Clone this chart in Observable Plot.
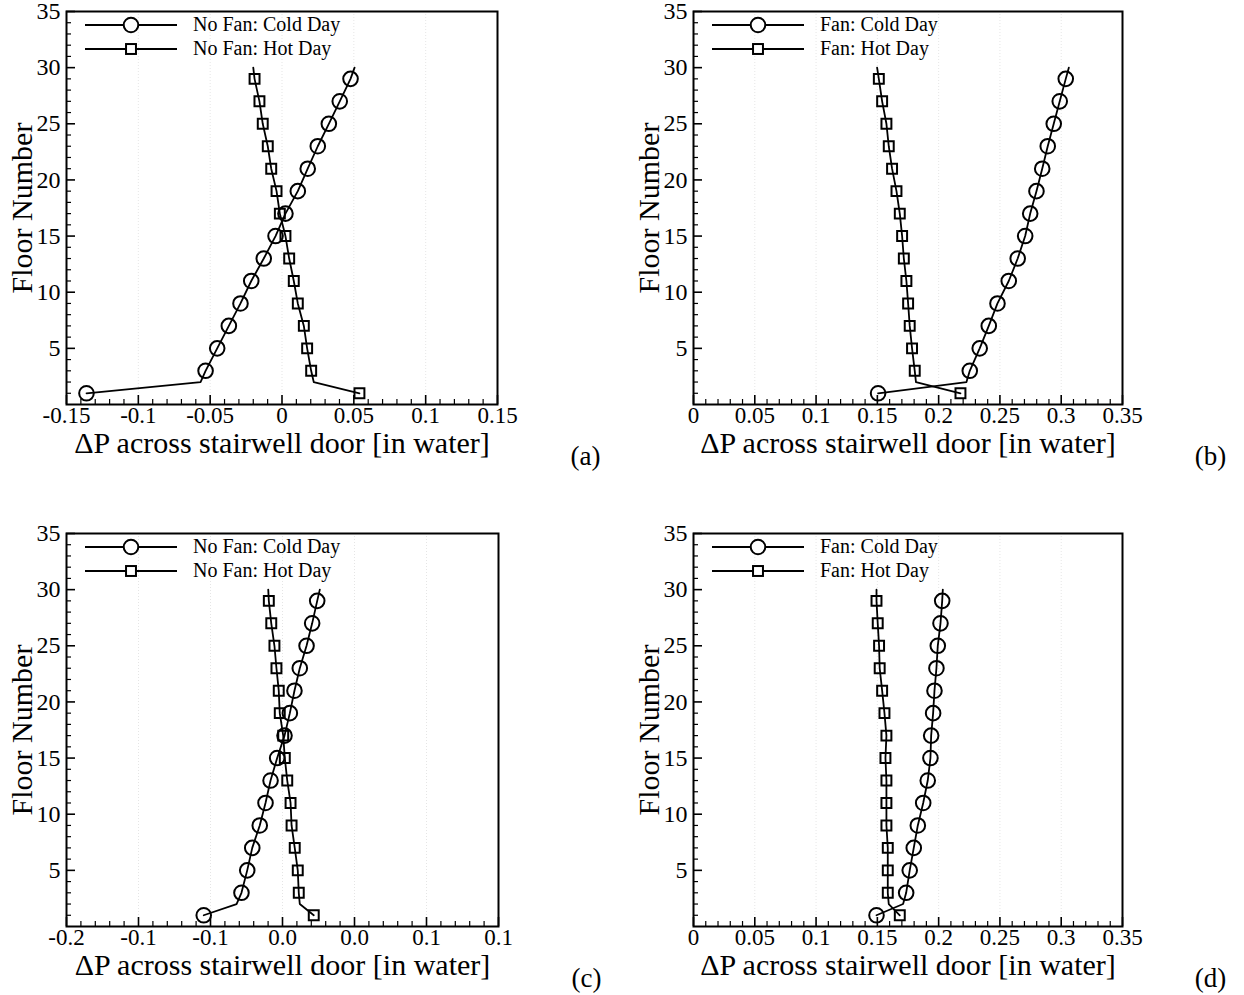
<!DOCTYPE html>
<html>
<head>
<meta charset="utf-8">
<script src="https://cdn.jsdelivr.net/npm/d3@7"></script>
<script src="https://cdn.jsdelivr.net/npm/@observablehq/plot@0.6"></script>
<style>
  html, body { margin: 0; padding: 0; background: #fff; }
  #page { position: relative; width: 1244px; height: 995px; background: #fff; }
  #page svg { position: absolute; font-family: 'Liberation Serif', 'Times New Roman', serif; }
</style>
</head>
<body>
<div id="page"></div>
<script>
// Floors where the curve has a vertex (markers drawn only on odd floors)
const floors = [1, 2, 3, 5, 7, 9, 11, 13, 15, 17, 19, 21, 23, 25, 27, 29, 30];

// (a) No fan
const aCold = [-0.1361, -0.0567, -0.0532, -0.0451, -0.0370, -0.0289, -0.0214, -0.0127, -0.0045, 0.0024, 0.0110, 0.0179, 0.0249, 0.0326, 0.0402, 0.0477, 0.0505];
const aHot  = [0.0539, 0.0221, 0.0203, 0.0175, 0.0152, 0.0110, 0.0082, 0.0050, 0.0024, -0.0015, -0.0038, -0.0075, -0.0099, -0.0134, -0.0157, -0.0191, -0.0200];
// (b) Fan
const bCold = [0.1506, 0.2227, 0.2254, 0.2335, 0.2409, 0.2480, 0.2572, 0.2645, 0.2706, 0.2747, 0.2798, 0.2845, 0.2890, 0.2939, 0.2988, 0.3037, 0.3062];
const bHot  = [0.2178, 0.1815, 0.1805, 0.1783, 0.1764, 0.1751, 0.1737, 0.1716, 0.1702, 0.1683, 0.1656, 0.1620, 0.1593, 0.1574, 0.1539, 0.1512, 0.1498];
// (c) No fan
const cCold = [-0.0547, -0.0319, -0.0285, -0.0245, -0.0210, -0.0158, -0.0118, -0.0083, -0.0037, 0.0014, 0.0051, 0.0083, 0.0120, 0.0167, 0.0206, 0.0241, 0.0259];
const cHot  = [0.0217, 0.0120, 0.0113, 0.0106, 0.0085, 0.0063, 0.0056, 0.0033, 0.0016, 0.0005, -0.0019, -0.0026, -0.0042, -0.0056, -0.0078, -0.0095, -0.0099];
// (d) Fan
const dCold = [0.1493, 0.1710, 0.1735, 0.1764, 0.1797, 0.1830, 0.1874, 0.1911, 0.1933, 0.1939, 0.1955, 0.1966, 0.1982, 0.1993, 0.2015, 0.2029, 0.2034];
const dHot  = [0.1683, 0.1593, 0.1585, 0.1585, 0.1585, 0.1574, 0.1574, 0.1574, 0.1566, 0.1574, 0.1558, 0.1539, 0.1519, 0.1514, 0.1503, 0.1493, 0.1493];

// Axis ticks and labels
const yTicks = [5, 10, 15, 20, 25, 30, 35];
const xTicksSym = [-0.15, -0.1, -0.05, 0, 0.05, 0.1, 0.15];
const xLabelsA = ["-0.15", "-0.1", "-0.05", "0", "0.05", "0.1", "0.15"];
const xLabelsC = ["-0.2", "-0.1", "-0.1", "0.0", "0.0", "0.1", "0.1"];
const xTicksPos = [0, 0.05, 0.1, 0.15, 0.2, 0.25, 0.3, 0.35];
const xLabelsB = ["0", "0.05", "0.1", "0.15", "0.2", "0.25", "0.3", "0.35"];

const namesNoFan = ["No Fan: Cold Day", "No Fan: Hot Day"];
const namesFan = ["Fan: Cold Day", "Fan: Hot Day"];
const xTitle = "ΔP across stairwell door [in water]";
const yTitle = "Floor Number";

const W = 622, H = 497;
const FONT = "Liberation Serif";
const CIRCLE_R = 7.3, SQUARE_R = 5.6;

function panel(cfg) {
  const {left, top, mL, mR, mT, mB, xDomain, xTicks, xLabels, cold, hot, names, letter} = cfg;
  const fw = W - mL - mR, fh = H - mT - mB;
  const rows = [];
  floors.forEach((f, i) => rows.push({floor: f, v: cold[i], s: "cold"}));
  floors.forEach((f, i) => rows.push({floor: f, v: hot[i], s: "hot"}));
  const markers = rows.filter(d => d.floor % 2 === 1);
  const xTickRows = xTicks.map((v, i) => ({v, label: xLabels[i]}));
  const yMinor = d3.range(1, 35).filter(d => d % 5 !== 0);
  const xMinor = d3.range(Math.round(xDomain[0] * 100), Math.round(xDomain[1] * 100) + 1)
    .filter(k => k % 5 !== 0).map(k => k / 100);

  const svg = Plot.plot({
    width: W, height: H,
    marginLeft: mL, marginRight: mR, marginTop: mT, marginBottom: mB,
    x: {domain: xDomain, axis: null},
    y: {domain: [0, 35], axis: null},
    style: {background: "white", color: "black", overflow: "visible"},
    marks: [
      Plot.gridX(xTicks, {stroke: "#000", strokeOpacity: 0.1, strokeDasharray: "1,2"}),
      Plot.line(rows, {x: "v", y: "floor", z: "s", stroke: "black", strokeWidth: 1.8}),
      Plot.dot(markers.filter(d => d.s === "cold"), {x: "v", y: "floor", r: CIRCLE_R, symbol: "circle", stroke: "black", strokeWidth: 2, fill: "none"}),
      Plot.dot(markers.filter(d => d.s === "hot"), {x: "v", y: "floor", r: SQUARE_R, symbol: "square", stroke: "black", strokeWidth: 2, fill: "none"}),
      Plot.tickY(yTicks, {y: d => d, insetRight: fw - 9, stroke: "black", strokeWidth: 1.6}),
      Plot.tickY(yMinor, {y: d => d, insetRight: fw - 5, stroke: "black", strokeWidth: 1.2}),
      Plot.tickX(xTicks, {x: d => d, insetTop: fh - 9, stroke: "black", strokeWidth: 1.6}),
      Plot.tickX(xMinor, {x: d => d, insetTop: fh - 5, stroke: "black", strokeWidth: 1.2}),
      Plot.text(yTicks, {y: d => d, text: d => String(d), frameAnchor: "left", textAnchor: "end", lineAnchor: "middle", dx: -6, fontSize: 24, fontFamily: FONT, fill: "black"}),
      Plot.text(xTickRows, {x: "v", text: "label", frameAnchor: "bottom", textAnchor: "middle", lineAnchor: "top", dy: 2, fontSize: 23, fontFamily: FONT, fill: "black"}),
      Plot.text([xTitle], {text: d => d, frameAnchor: "bottom", textAnchor: "middle", lineAnchor: "bottom", dy: 48, fontSize: 30, fontFamily: FONT, fill: "black"}),
      Plot.text([yTitle], {text: d => d, frameAnchor: "left", textAnchor: "middle", rotate: -90, lineAnchor: "bottom", dx: -35, fontSize: 30, fontFamily: FONT, fill: "black"}),
      Plot.text([letter], {text: d => d, frameAnchor: "bottom-right", textAnchor: "middle", lineAnchor: "bottom", dx: 88, dy: 60, fontSize: 27, fontFamily: FONT, fill: "black"}),
      Plot.frame({stroke: "black", strokeWidth: 2})
    ]
  });
  svg.style.left = left + "px";
  svg.style.top = top + "px";

  // Legend (inside top-left of frame)
  const g = d3.select(svg).append("g")
    .attr("font-family", FONT).attr("font-size", 20).attr("text-anchor", "start");
  names.forEach((name, i) => {
    const y = mT + 14 + i * 24;
    g.append("line").attr("x1", mL + 19).attr("x2", mL + 111).attr("y1", y).attr("y2", y)
      .attr("stroke", "black").attr("stroke-width", 1.8);
    if (i === 0) {
      g.append("circle").attr("cx", mL + 65).attr("cy", y).attr("r", CIRCLE_R)
        .attr("fill", "white").attr("stroke", "black").attr("stroke-width", 2);
    } else {
      const s = SQUARE_R * Math.sqrt(Math.PI);
      g.append("rect").attr("x", mL + 65 - s / 2).attr("y", y - s / 2).attr("width", s).attr("height", s)
        .attr("fill", "white").attr("stroke", "black").attr("stroke-width", 2);
    }
    g.append("text").attr("x", mL + 127).attr("y", y).attr("dy", "0.32em")
      .attr("text-anchor", "start").attr("fill", "black").text(name);
  });
  document.getElementById("page").appendChild(svg);
}

panel({left: 0, top: 0, mL: 66, mR: 125, mT: 11, mB: 93, xDomain: [-0.15, 0.15], xTicks: xTicksSym, xLabels: xLabelsA, cold: aCold, hot: aHot, names: namesNoFan, letter: "(a)"});
panel({left: 622, top: 0, mL: 71, mR: 122, mT: 11, mB: 93, xDomain: [0, 0.35], xTicks: xTicksPos, xLabels: xLabelsB, cold: bCold, hot: bHot, names: namesFan, letter: "(b)"});
panel({left: 0, top: 497, mL: 66, mR: 124, mT: 36, mB: 68, xDomain: [-0.15, 0.15], xTicks: xTicksSym, xLabels: xLabelsC, cold: cCold, hot: cHot, names: namesNoFan, letter: "(c)"});
panel({left: 622, top: 497, mL: 71, mR: 122, mT: 36, mB: 68, xDomain: [0, 0.35], xTicks: xTicksPos, xLabels: xLabelsB, cold: dCold, hot: dHot, names: namesFan, letter: "(d)"});
</script>
</body>
</html>
